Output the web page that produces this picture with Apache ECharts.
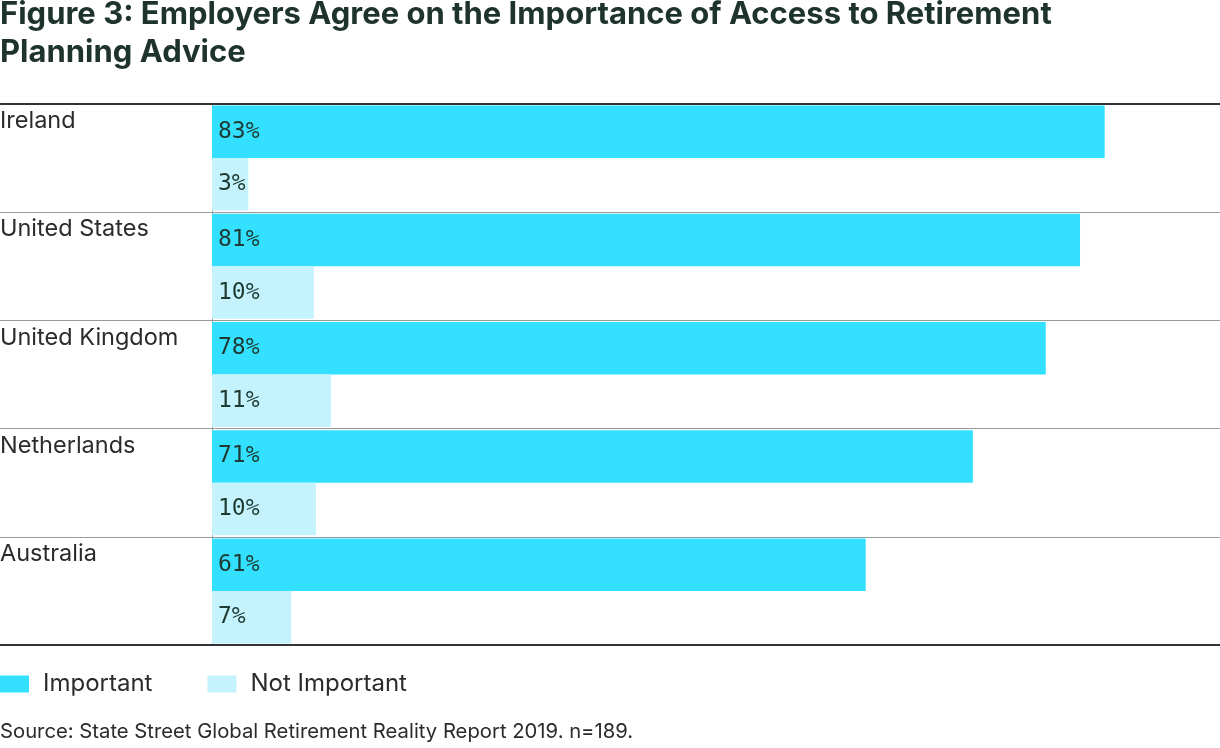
<!DOCTYPE html>
<html>
<head>
<meta charset="utf-8">
<script src="https://cdn.jsdelivr.net/npm/echarts@6/dist/echarts.min.js"></script>
<style>
html,body{margin:0;padding:0;background:#fff;}
#chart{width:1220px;height:748px;}
</style>
</head>
<body>
<div id="chart"></div>
<script>
const titleText = 'Figure 3: Employers Agree on the Importance of Access to Retirement\nPlanning Advice';
const sourceText = 'Source: State Street Global Retirement Reality Report 2019. n=189.';
const categories = ['Ireland', 'United States', 'United Kingdom', 'Netherlands', 'Australia'];
const seriesNames = ['Important', 'Not Important'];
const important = [83.3, 81.0, 77.8, 71.0, 61.0];
const notImportant = [3.4, 9.5, 11.1, 9.7, 7.4];

const chart = echarts.init(document.getElementById('chart'), null, {renderer: 'canvas'});
const textColor = '#2b2b2b';
const labelCfg = {
  show: true,
  position: 'insideLeft',
  distance: 6,
  fontFamily: 'DejaVu Sans Mono',
  fontSize: 23,
  color: '#1e3a32',
  formatter: p => Math.round(p.value) + '%'
};
const xMin = -19.78, xMax = 94.06;
chart.setOption({
  animation: false,
  backgroundColor: '#fff',
  title: [{
    text: titleText,
    left: 0, top: -4, padding: 0,
    textStyle: {fontFamily: 'Inter', fontWeight: 'bold', fontSize: 31, lineHeight: 38, color: '#1e3329'}
  }, {
    text: sourceText,
    left: 0, top: 722, padding: 0,
    textStyle: {fontFamily: 'Inter', fontWeight: 'normal', fontSize: 20.25, color: textColor}
  }],
  legend: {
    left: 0, top: 672, padding: 0,
    itemWidth: 29, itemHeight: 17,
    itemGap: 55,
    icon: 'rect',
    textStyle: {fontFamily: 'Inter', fontSize: 24, color: textColor, padding: [0, 0, 0, 9]},
    data: seriesNames
  },
  grid: {left: 0, right: 0, top: 104, bottom: 103, containLabel: false, outerBoundsMode: 'none'},
  xAxis: [{
    type: 'value', min: xMin, max: xMax, position: 'bottom',
    axisLine: {show: true, lineStyle: {color: '#333', width: 2}},
    axisTick: {show: false}, axisLabel: {show: false}, splitLine: {show: false}
  }, {
    type: 'value', min: xMin, max: xMax, position: 'top',
    axisLine: {show: true, lineStyle: {color: '#333', width: 2}},
    axisTick: {show: false}, axisLabel: {show: false}, splitLine: {show: false}
  }],
  yAxis: {
    type: 'category', data: categories, inverse: true,
    axisLine: {show: true, onZero: true, lineStyle: {color: '#9a9a9a', width: 1}},
    axisTick: {show: false},
    axisLabel: {
      align: 'left', margin: 0, verticalAlign: 'middle',
      interval: 0, showMinLabel: true, showMaxLabel: true, hideOverlap: false,
      lineHeight: 37,
      formatter: v => v + '\n\n',
      fontFamily: 'Inter', fontSize: 23.5, color: textColor
    },
    splitLine: {show: true, interval: 0, lineStyle: {color: '#9a9a9a', width: 1}}
  },
  series: [{
    name: seriesNames[0], type: 'bar', data: important,
    itemStyle: {color: '#33E0FF'},
    barCategoryGap: '3%', barGap: '0%',
    label: labelCfg
  }, {
    name: seriesNames[1], type: 'bar', data: notImportant,
    itemStyle: {color: '#C5F3FD'},
    barCategoryGap: '3%', barGap: '0%',
    label: labelCfg
  }]
});
</script>
</body>
</html>
